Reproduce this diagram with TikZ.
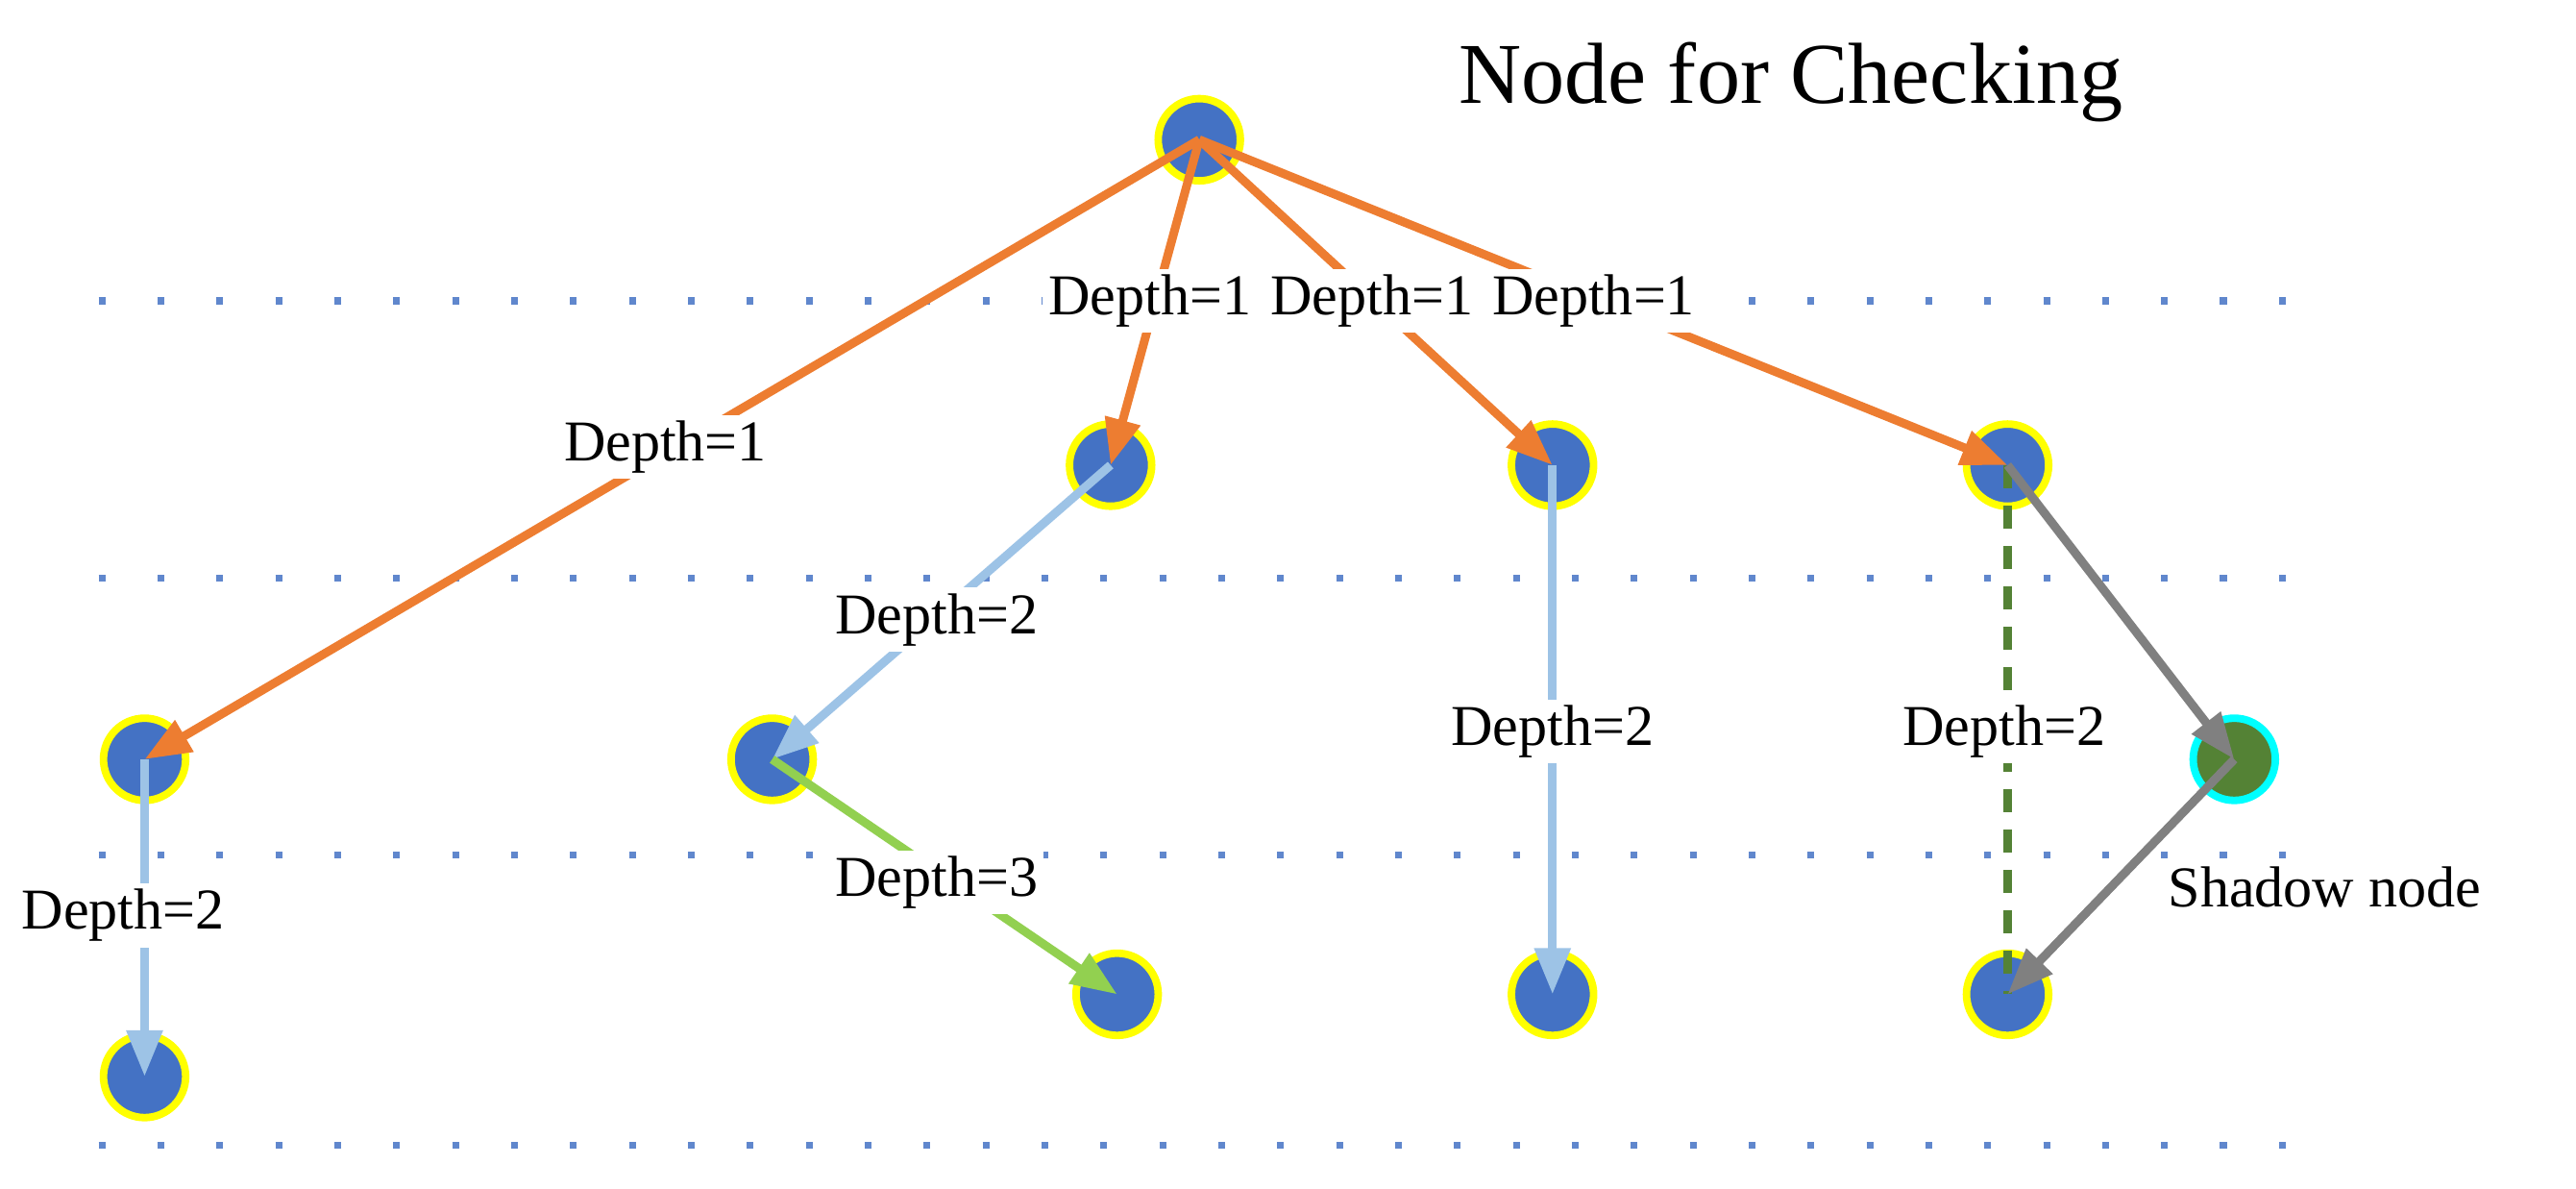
\documentclass[tikz,border=0pt]{standalone}
\usepackage{fontspec}
\setmainfont{Liberation Serif}
\usetikzlibrary{arrows.meta}
\definecolor{nblue}{RGB}{68,114,196}
\definecolor{ora}{RGB}{237,125,49}
\definecolor{lblue}{RGB}{157,195,230}
\definecolor{lgreen}{RGB}{146,208,80}
\definecolor{dgreen}{RGB}{84,130,53}
\definecolor{cyn}{RGB}{0,255,255}
\definecolor{ylw}{RGB}{255,255,0}
\begin{document}
\begin{tikzpicture}[x=0.01cm,y=-0.01cm,
  nd/.style={circle,fill=nblue,draw=ylw,line width=1.3pt,minimum size=0.5cm,inner sep=0pt},
  lab/.style={fill=white,text=black,inner sep=1pt,font=\fontsize{10}{12}\selectfont},
  ar/.style={line width=1.5pt,-{Triangle[length=8pt,width=6pt]}},
  dots/.style={nblue!85,line width=1.2pt,dash pattern=on 1.2pt off 9pt}]
\useasboundingbox (0,0) rectangle (1568,723);
\foreach \y in {183,352,520,697} \draw[dots] (60,\y) -- (1410,\y);
\node[font=\fontsize{15}{18}\selectfont] (title) at (1090,50) {Node for Checking};
\node[nd] (root) at (730,85) {};
\node[nd] (A) at (676,283) {};
\node[nd] (B) at (945,283) {};
\node[nd] (C) at (1222,283) {};
\node[nd] (L) at (88,462) {};
\node[nd] (M) at (470,462) {};
\node[nd,fill=dgreen,draw=cyn] (S) at (1360,462) {};
\node[nd] (L2) at (88,655) {};
\node[nd] (M2) at (680,605) {};
\node[nd] (B2) at (945,605) {};
\node[nd] (C2) at (1222,605) {};
\draw[ar,ora] (root.center) -- (L.center);
\node[lab] (d1l) at (405,272) {Depth=1};
\draw[ar,ora] (root.center) -- (A.center);
\draw[ar,ora] (root.center) -- (B.center);
\draw[ar,ora] (root.center) -- (C.center);
\node[lab] (d1a) at (700,183) {Depth=1};
\node[lab] (d1b) at (835,183) {Depth=1};
\node[lab] (d1c) at (970,183) {Depth=1};
\draw[ar,lblue] (A.center) -- (M.center);
\node[lab] (d2a) at (570,377) {Depth=2};
\draw[ar,lgreen] (M.center) -- (M2.center);
\node[lab] (d3) at (570,537) {Depth=3};
\draw[ar,lblue] (B.center) -- (B2.center);
\node[lab] (d2b) at (945,445) {Depth=2};
\draw[ar,lblue] (L.center) -- (L2.center);
\node[lab] (d2l) at (75,557) {Depth=2};
\draw[dgreen,line width=1.5pt,dash pattern=on 4pt off 3pt] (C.center) -- (C2.center);
\node[lab] (d2c) at (1220,445) {Depth=2};
\draw[ar,gray] (C.center) -- (S.center);
\draw[ar,gray] (S.center) -- (C2.center);
\node[font=\fontsize{10}{12}\selectfont] (sh) at (1415,540) {Shadow node};
\end{tikzpicture}
\end{document}
